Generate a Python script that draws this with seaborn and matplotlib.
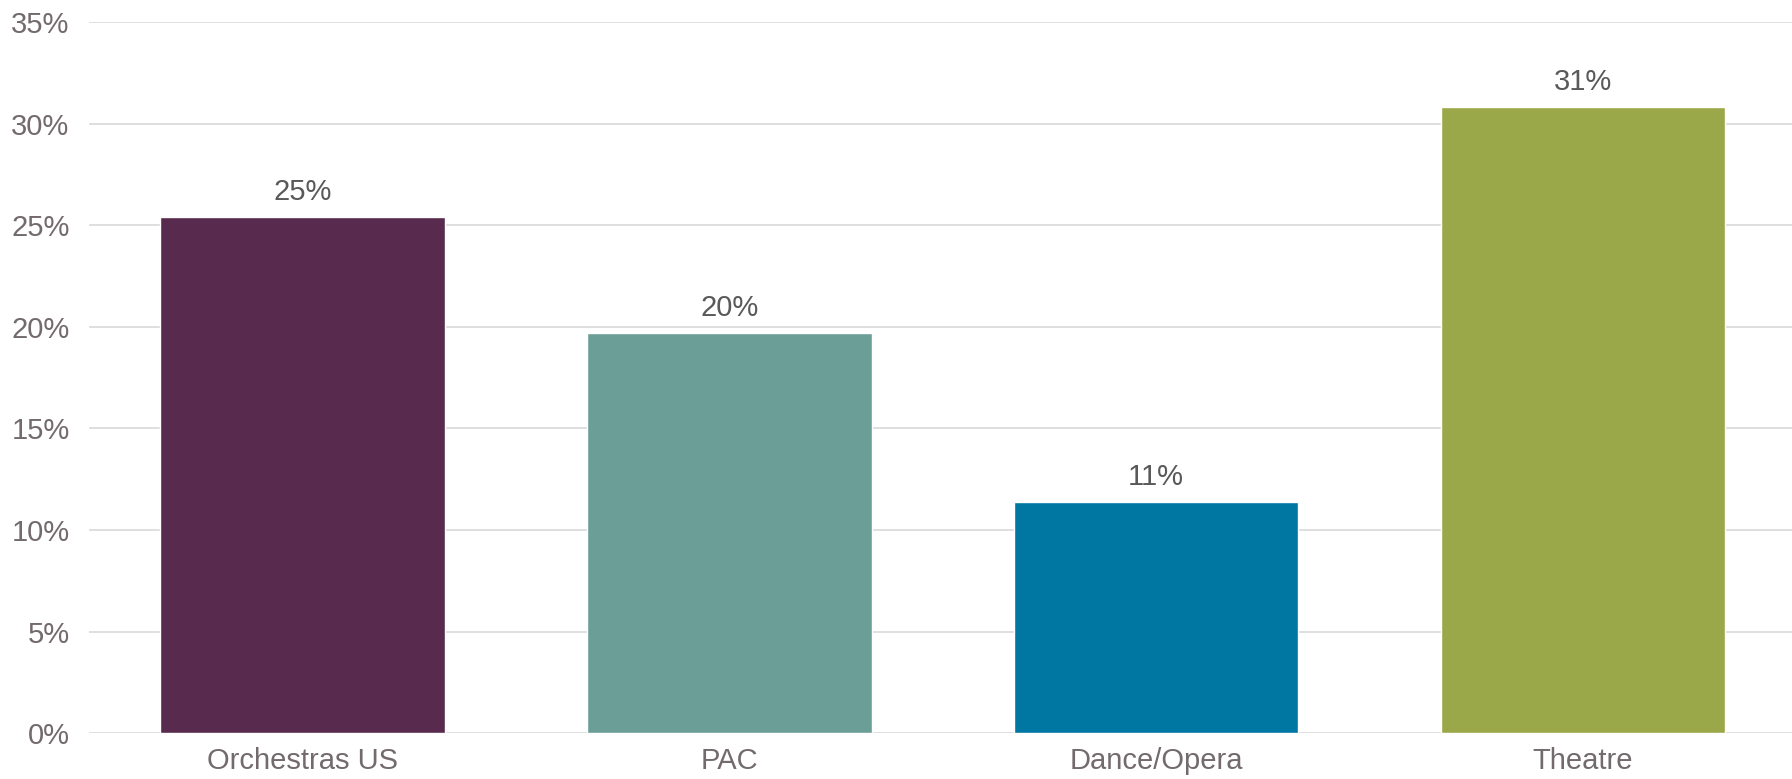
import matplotlib
matplotlib.use("Agg")
import matplotlib.pyplot as plt
import seaborn as sns
import pandas as pd
from matplotlib.ticker import PercentFormatter

categories = ["Orchestras US", "PAC", "Dance/Opera", "Theatre"]
values = [25.4, 19.7, 11.4, 30.8]
labels = ["25%", "20%", "11%", "31%"]
colors = ["#582A4E", "#6A9E96", "#0077A3", "#9BA84A"]

sns.set_theme(style="white")
plt.rcParams["font.family"] = ["Liberation Sans", "DejaVu Sans"]

df = pd.DataFrame({"cat": categories, "val": values})

fig = plt.figure(figsize=(17.92, 7.79), dpi=100)
ax = fig.add_axes([0.0497, 0.0586, 0.9503, 0.9132])
sns.barplot(data=df, x="cat", y="val", hue="cat", palette=colors, width=0.667,
            legend=False, ax=ax, saturation=1)

ax.set_ylim(0, 35)
ax.set_xlim(-0.5, 3.49)
ax.set_yticks(range(0, 36, 5))
ax.yaxis.set_major_formatter(PercentFormatter(decimals=0))
ax.grid(axis="y", color="#d9d9d9", linewidth=1.2)
ax.set_axisbelow(True)
for s in ax.spines.values():
    s.set_visible(False)
ax.set_xlabel("")
ax.set_ylabel("")
ax.tick_params(axis="both", length=0, labelsize=21, labelcolor="#736a6d")
ax.tick_params(axis="x", pad=10)
ax.tick_params(axis="y", pad=14)

for i, (v, t) in enumerate(zip(values, labels)):
    ax.annotate(t, (i, v), xytext=(0, 8), textcoords="offset points",
                ha="center", va="bottom", fontsize=21, color="#595959")

fig.savefig("out.png", dpi=100)
